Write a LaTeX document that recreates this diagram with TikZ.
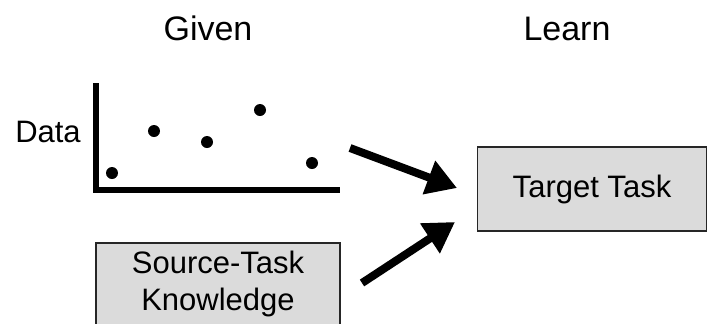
\documentclass[tikz,border=0pt]{standalone}
\usepackage{fontspec}
\setmainfont{Liberation Sans}
\usepackage{tikz}
\usetikzlibrary{arrows.meta, positioning}

\begin{document}
\begin{tikzpicture}[
    x=0.5pt, y=-0.5pt,
    head/.style={font=\fontsize{17}{20}\selectfont, anchor=base},
    label/.style={font=\fontsize{15.5}{18.5}\selectfont, anchor=base},
    taskbox/.style={draw=black!85, line width=0.7pt, fill=black!14, align=center,
                    font=\fontsize{15.5}{18.5}\selectfont, inner sep=0pt},
    bigarrow/.style={-{Triangle[length=15pt, width=17pt]}, line width=4pt},
    dot/.style={circle, fill=black, inner sep=0pt, minimum size=6pt}
]
\clip (0,0) rectangle (708,323);
\useasboundingbox (0,0) rectangle (708,323);

\node[head] (given) at (208,40) {Given};
\node[head] (learn) at (567,40) {Learn};

% data plot
\node[label] (data) at (48,142) {Data};
\draw[line width=3pt] (96,83) -- (96,189.5) -- (340,189.5);
\node[dot] (p1) at (112,173) {};
\node[dot] (p2) at (154,131) {};
\node[dot] (p3) at (207,142) {};
\node[dot] (p4) at (260,110) {};
\node[dot] (p5) at (312,163) {};

\node[taskbox, minimum width=122pt, minimum height=41pt] (src) at (218,284)
    {Source-Task\\Knowledge};
\node[taskbox, minimum width=114.5pt, minimum height=42pt] (tgt) at (592,189)
    {Target Task};

\coordinate (a1) at (350,148);
\coordinate (b1) at (457,188);
\coordinate (a2) at (362,283);
\coordinate (b2) at (455,222);
\draw[bigarrow] (a1) -- (b1);
\draw[bigarrow] (a2) -- (b2);
\end{tikzpicture}
\end{document}
